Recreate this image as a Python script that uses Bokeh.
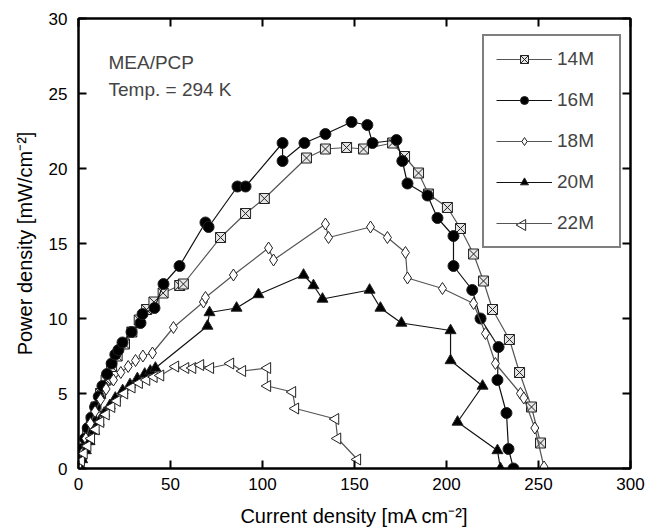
import numpy as np
from bokeh.plotting import figure
from bokeh.models import LinearAxis, Range1d, Label, Legend, LegendItem, FixedTicker
from bokeh.embed import file_html
from bokeh.resources import INLINE

x14 = [0, 1.5, 3, 5, 7, 9.5, 12, 15, 18, 21, 25, 29, 33, 37, 41, 46, 55, 57, 77.2, 90.8, 101, 123.9, 134.2,
       145.7, 154.9, 170.7, 177.2, 184.8, 190.2, 200.5, 207.6, 214.7, 220.1, 225, 234.2, 239.7, 246.2, 251.1]
y14 = [0, 0.8, 1.6, 2.4, 3.2, 4.1, 5.0, 5.9, 6.8, 7.5, 8.3, 9.1, 9.9, 10.6, 11.1, 11.7, 12.2, 12.3, 15.4, 17.0, 18.0, 20.7, 21.3,
       21.4, 21.3, 21.7, 20.8, 19.7, 18.3, 17.4, 16.0, 14.3, 12.5, 10.6, 8.6, 6.4, 4.1, 1.7]

x16 = [0, 1, 2, 3.5, 5, 7, 9, 11, 13, 15.5, 18, 20, 21.7, 23.9, 28.8, 33.7, 34.8, 41.3, 46.2, 54.9, 69, 70.7,
       86.4, 90.8, 110.9, 110.9, 122.8, 134.2, 148.4, 157, 159.8, 172.8, 176, 178.8, 189.7, 195.1, 203.8, 203.8,
       214, 218.5, 228.3, 227.7, 232.6, 233.7, 236.4]
y16 = [0, 0.6, 1.3, 2.0, 2.7, 3.4, 4.1, 4.8, 5.5, 6.3, 7.0, 7.6, 7.9, 8.4, 9.1, 9.7, 10.3, 10.7, 12.3, 13.5, 16.4, 16.1,
       18.8, 18.8, 21.7, 20.5, 21.7, 22.3, 23.1, 22.9, 21.7, 21.9, 20.5, 19.0, 18.2, 16.7, 15.5, 13.5,
       11.9, 10.0, 8.1, 5.9, 3.7, 1.3, 0]

x18 = [0, 2, 4, 6.5, 9, 12, 15, 19, 23, 27, 31, 35, 40.2, 51.6, 67.9, 69, 84.2, 103.3, 106, 134.2, 135.9,
       158.7, 167.9, 177.7, 178.8, 197.8, 214.7, 221.2, 226.6, 240.2, 242, 248, 253]
y18 = [0, 1.0, 2.0, 3.0, 3.8, 4.6, 5.3, 5.9, 6.4, 6.8, 7.2, 7.5, 7.7, 9.4, 11.1, 11.4, 12.9, 14.7, 13.9, 16.3, 15.4,
       16.1, 15.4, 14.4, 12.7, 12.0, 11.0, 9.0, 7.0, 5.0, 4.7, 2.7, 0.1]

x20 = [0, 2, 4, 6, 8.5, 11, 14, 17, 20, 24, 28, 32, 36, 39, 41.8, 70.1, 71.2, 85.9, 97.8, 122.3, 127.7, 132.6,
       158.2, 164.1, 175.5, 202.2, 202.2, 219.6, 206, 227.7, 229.3]
y20 = [0, 0.6, 1.2, 1.8, 2.5, 3.1, 3.7, 4.2, 4.7, 5.2, 5.6, 6.0, 6.3, 6.5, 6.7, 9.5, 10.4, 10.7, 11.6, 12.9, 12.2, 11.3,
       11.9, 10.7, 9.7, 9.2, 7.2, 5.5, 3.1, 1.2, 0]

x22 = [0, 1.5, 3, 5, 7, 9.5, 12, 15, 18, 21, 25, 29, 33, 37, 41, 44.6, 52.7, 58.2, 62, 66.3, 71.7, 82.6, 89.1,
       102.7, 102.7, 116.3, 117.9, 139.7, 140.8, 151.6]
y22 = [0, 0.5, 1.0, 1.5, 2.0, 2.6, 3.1, 3.6, 4.1, 4.5, 5.0, 5.4, 5.7, 5.9, 6.1, 6.2, 6.8, 6.7, 6.7, 6.9, 6.7, 7.0, 6.5,
       6.7, 5.5, 5.1, 4.0, 3.3, 2.0, 0.6]

x_ticks = [0, 50, 100, 150, 200, 250, 300]
y_ticks = [0, 5, 10, 15, 20, 25, 30]

FONT = "Liberation Sans"
X_MAX, Y_MAX = 300, 30
FRAME_W, FRAME_H = 552, 450

p = figure(width=646, height=532, output_backend="svg", toolbar_location=None,
           x_range=Range1d(0, X_MAX), y_range=Range1d(0, Y_MAX),
           min_border_left=78, min_border_right=16, min_border_top=18, min_border_bottom=64,
           x_axis_label="Current density [mA cm\u207b\u00b2]",
           y_axis_label="Power density [mW/cm\u207b\u00b2]")
p.xgrid.visible = False
p.ygrid.visible = False
p.outline_line_color = "black"
p.outline_line_width = 2
p.background_fill_color = "white"
p.border_fill_color = "white"

for ax, ticks in ((p.xaxis[0], x_ticks), (p.yaxis[0], y_ticks)):
    ax.ticker = FixedTicker(ticks=ticks)
    ax.axis_line_width = 2
    ax.major_tick_in = 8
    ax.major_tick_out = 0
    ax.major_tick_line_width = 2
    ax.minor_tick_line_color = None
    ax.major_label_text_font = FONT
    ax.major_label_text_font_size = "17px"
    ax.major_label_text_color = "black"
    ax.axis_label_text_font = FONT
    ax.axis_label_text_font_size = "20px"
    ax.axis_label_text_font_style = "normal"
    ax.axis_label_text_color = "black"
p.xaxis[0].major_label_standoff = 9
p.yaxis[0].major_label_standoff = 11
p.xaxis[0].axis_label_standoff = 12
p.yaxis[0].axis_label_standoff = 10

# top and right mirrored ticks, no labels
for loc, ticks in (("above", x_ticks), ("right", y_ticks)):
    a = LinearAxis(ticker=FixedTicker(ticks=ticks), major_tick_in=8, major_tick_out=0,
                   major_tick_line_width=2, minor_tick_line_color=None, axis_line_width=2,
                   major_label_overrides={t: "" for t in ticks}, major_label_standoff=0,
                   major_label_text_font_size="1px")
    p.add_layout(a, loc)

series = [
    ("14M", x14, y14, "#555555", "square_x", "#e6e6e6", 10, 0.0),
    ("16M", x16, y16, "#111111", "circle", "black", 11, 0.0),
    ("18M", x18, y18, "#555555", "diamond", "white", 12, 0.0),
    ("20M", x20, y20, "#111111", "triangle", "black", 11, 0.0),
    ("22M", x22, y22, "#555555", "triangle", "white", 11, np.pi / 2),
]

# legend geometry (screen px, relative to the plot frame)
LEG_X, LEG_Y, LEG_PAD, GLYPH_W, ITEM_H, SPACING = 404, 220, 12, 56, 23, 19

items = []
for name, xs, ys, lc, marker, fc, sz, ang in series:
    r1 = p.line(xs, ys, line_color=lc, line_width=1.2)
    r2 = p.scatter(xs, ys, marker=marker, size=sz, fill_color=fc, line_color="#222222",
                   line_width=1, angle=ang)
    items.append(LegendItem(label=name, renderers=[r1] if ang else [r1, r2]))

legend = Legend(items=items, location=(LEG_X, LEG_Y), border_line_color="black", border_line_width=2,
                label_text_font=FONT, label_text_font_size="19px", glyph_width=GLYPH_W, glyph_height=20,
                label_height=20, label_width=50, spacing=SPACING, padding=LEG_PAD, margin=0,
                label_standoff=5, background_fill_alpha=0.0)
p.add_layout(legend, "center")

# Bokeh's legend draws markers unrotated: put the left-pointing 22M marker on its legend row
lx_px = LEG_X + LEG_PAD + GLYPH_W / 2
ly_px = LEG_Y + LEG_PAD + ITEM_H / 2
p.scatter([lx_px * X_MAX / FRAME_W], [ly_px * Y_MAX / FRAME_H], marker="triangle", size=11,
          angle=np.pi / 2, fill_color="white", line_color="#222222", line_width=1)

p.add_layout(Label(x=30, y=406, x_units="screen", y_units="screen", text="MEA/PCP",
                   text_font=FONT, text_font_size="19px", text_baseline="middle"))
p.add_layout(Label(x=30, y=379, x_units="screen", y_units="screen", text="Temp. = 294 K",
                   text_font=FONT, text_font_size="19px", text_baseline="middle"))

open("out.html", "w").write(file_html(p, INLINE))
